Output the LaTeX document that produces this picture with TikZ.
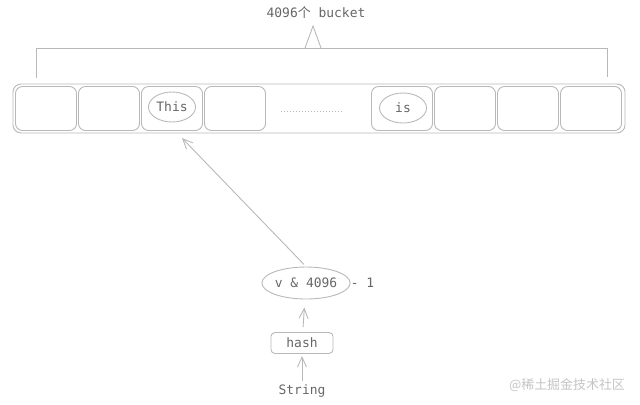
\documentclass[tikz,border=0pt]{standalone}
\usepackage{fontspec}
\setmonofont{DejaVu Sans Mono}
\newfontfamily\cjkfont{Noto Sans CJK SC}
\usetikzlibrary{arrows.meta,shapes.geometric,positioning}
\definecolor{linegray}{HTML}{B8B8B8}
\definecolor{textgray}{HTML}{666666}
\definecolor{markgray}{HTML}{C4C4C4}

\begin{document}
\begin{tikzpicture}[x=1bp,y=-1bp,
    every node/.style={font=\ttfamily\fontsize{13}{15}\selectfont,text=textgray},
    line/.style={draw=linegray,line width=0.9bp},
    bucket/.style={line,rounded corners=7bp,minimum width=61bp,minimum height=44bp,inner sep=0pt},
    word/.style={line,ellipse,minimum width=47bp,minimum height=30bp,inner sep=0pt},
    flow/.style={line,-{Straight Barb[length=10bp,width=9bp]}}]
\useasboundingbox (0,0) rectangle (640,404);
\node (title) at (316,13) {4096{\cjkfont 个} bucket};
% bracket over the buckets
\draw[line] (36,78) -- (36,48) -- (607,48) -- (607,77);
\draw[line] (305,48) -- (313,26) -- (321,48);
\node[line,rounded corners=8bp,minimum width=612bp,minimum height=49bp] (row) at (319,108.5) {};
\foreach \x/\n in {46/1,109/2,172/3,235/4,402/5,465/6,528/7,591/8}
  \node[bucket] (b\n) at (\x,108.5) {};
\draw[line,dash pattern=on 0.8bp off 2.2bp] (281,111) -- (344,111);
\node[word] (this) at (172,107) {This};
\node[word] (is) at (403,108) {is};
\node[line,ellipse,minimum width=82bp,minimum height=32bp,inner sep=0pt] (mask) at (306,283) {v \& 4096};
\node[right=0bp of mask,inner sep=0bp] (minus) {- 1};
\node[line,rounded corners=4bp,minimum width=62bp,minimum height=21bp,inner sep=0pt] (hash) at (302,343) {hash};
\node (string) at (302,391) {String};
\coordinate (hit) at (182,138);
\draw[flow] (string) -- ([yshift=-2bp]hash.south);
\draw[flow,shorten <=5bp,shorten >=8bp] (hash) -- (mask);
\draw[flow,shorten <=3bp] (mask.north) -- (hit);
\node[font=\cjkfont\fontsize{13}{15}\selectfont,text=markgray] (watermark) at (567,385) {@稀土掘金技术社区};
\end{tikzpicture}
\end{document}
